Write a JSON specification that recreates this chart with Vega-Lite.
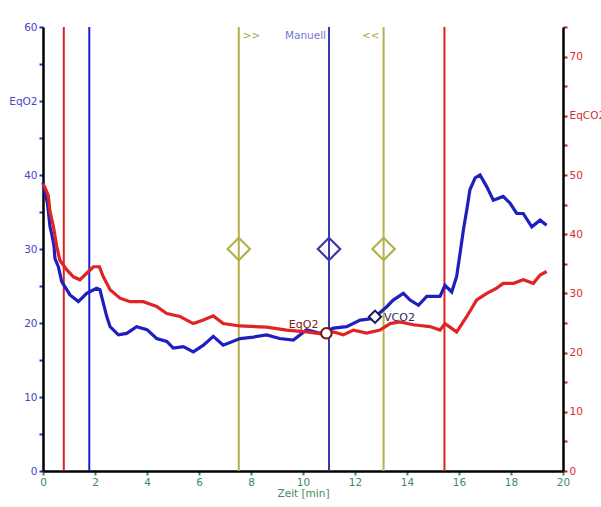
{
  "$schema": "https://vega.github.io/schema/vega-lite/v6.json",
  "width": 520,
  "height": 444,
  "autosize": {"type": "none"},
  "padding": {"left": 43, "top": 27, "right": 38, "bottom": 36},
  "background": "white",
  "config": {"view": {"stroke": null}, "font": "DejaVu Sans", "axis": {"grid": false}},
  "datasets": {
    "eqo2": [
      {"t": 0.0, "v": 39.0}, {"t": 0.17, "v": 36.2}, {"t": 0.27, "v": 33.0}, {"t": 0.33, "v": 32.1},
      {"t": 0.42, "v": 30.5}, {"t": 0.46, "v": 28.7}, {"t": 0.59, "v": 27.6}, {"t": 0.72, "v": 25.6},
      {"t": 1.04, "v": 23.8}, {"t": 1.36, "v": 22.9}, {"t": 1.68, "v": 24.0}, {"t": 2.06, "v": 24.7},
      {"t": 2.19, "v": 24.5}, {"t": 2.32, "v": 22.7}, {"t": 2.45, "v": 20.9}, {"t": 2.58, "v": 19.5},
      {"t": 2.9, "v": 18.4}, {"t": 3.22, "v": 18.6}, {"t": 3.6, "v": 19.5}, {"t": 4.0, "v": 19.1},
      {"t": 4.37, "v": 17.9}, {"t": 4.76, "v": 17.5}, {"t": 5.01, "v": 16.6}, {"t": 5.4, "v": 16.8},
      {"t": 5.78, "v": 16.1}, {"t": 6.17, "v": 17.0}, {"t": 6.55, "v": 18.2}, {"t": 6.93, "v": 17.0},
      {"t": 7.58, "v": 17.9}, {"t": 8.1, "v": 18.1}, {"t": 8.6, "v": 18.4}, {"t": 9.1, "v": 17.9},
      {"t": 9.63, "v": 17.7}, {"t": 10.14, "v": 19.1}, {"t": 10.65, "v": 18.6}, {"t": 11.17, "v": 19.3},
      {"t": 11.68, "v": 19.5}, {"t": 12.2, "v": 20.4}, {"t": 12.7, "v": 20.6}, {"t": 13.22, "v": 22.2},
      {"t": 13.47, "v": 23.1}, {"t": 13.86, "v": 24.0}, {"t": 14.12, "v": 23.1}, {"t": 14.44, "v": 22.4},
      {"t": 14.76, "v": 23.6}, {"t": 15.27, "v": 23.6}, {"t": 15.46, "v": 25.1}, {"t": 15.72, "v": 24.2},
      {"t": 15.91, "v": 26.3}, {"t": 16.04, "v": 29.4}, {"t": 16.17, "v": 32.6}, {"t": 16.3, "v": 35.3},
      {"t": 16.42, "v": 38.0}, {"t": 16.62, "v": 39.6}, {"t": 16.81, "v": 40.0}, {"t": 17.07, "v": 38.4},
      {"t": 17.32, "v": 36.6}, {"t": 17.7, "v": 37.1}, {"t": 17.96, "v": 36.2}, {"t": 18.22, "v": 34.8},
      {"t": 18.47, "v": 34.8}, {"t": 18.8, "v": 33.0}, {"t": 19.12, "v": 33.9}, {"t": 19.37, "v": 33.2}
    ],
    "eqco2": [
      {"t": 0.0, "v": 48.5}, {"t": 0.08, "v": 47.8}, {"t": 0.2, "v": 46.6}, {"t": 0.27, "v": 43.8},
      {"t": 0.4, "v": 41.3}, {"t": 0.53, "v": 37.9}, {"t": 0.65, "v": 35.6}, {"t": 0.91, "v": 34.0},
      {"t": 1.17, "v": 32.8}, {"t": 1.42, "v": 32.3}, {"t": 1.68, "v": 33.4}, {"t": 1.94, "v": 34.5},
      {"t": 2.17, "v": 34.5}, {"t": 2.32, "v": 32.8}, {"t": 2.58, "v": 30.6}, {"t": 2.96, "v": 29.2},
      {"t": 3.35, "v": 28.6}, {"t": 3.86, "v": 28.6}, {"t": 4.37, "v": 27.8}, {"t": 4.76, "v": 26.6},
      {"t": 5.27, "v": 26.1}, {"t": 5.78, "v": 24.9}, {"t": 6.17, "v": 25.5}, {"t": 6.55, "v": 26.2},
      {"t": 6.93, "v": 24.9}, {"t": 7.58, "v": 24.5}, {"t": 8.6, "v": 24.3}, {"t": 9.37, "v": 23.8},
      {"t": 10.14, "v": 23.5}, {"t": 10.85, "v": 23.1}, {"t": 11.17, "v": 23.5}, {"t": 11.55, "v": 23.0},
      {"t": 11.94, "v": 23.8}, {"t": 12.45, "v": 23.3}, {"t": 12.96, "v": 23.8}, {"t": 13.35, "v": 24.9},
      {"t": 13.73, "v": 25.2}, {"t": 14.24, "v": 24.7}, {"t": 14.88, "v": 24.4}, {"t": 15.27, "v": 23.8},
      {"t": 15.46, "v": 24.9}, {"t": 15.91, "v": 23.5}, {"t": 16.3, "v": 26.1}, {"t": 16.68, "v": 28.9},
      {"t": 17.07, "v": 30.0}, {"t": 17.45, "v": 30.9}, {"t": 17.7, "v": 31.7}, {"t": 18.1, "v": 31.7},
      {"t": 18.47, "v": 32.3}, {"t": 18.86, "v": 31.7}, {"t": 19.12, "v": 33.1}, {"t": 19.37, "v": 33.7}
    ],
    "vlines": [
      {"t": 0.8, "kind": "Start/Ende"}, {"t": 1.78, "kind": "Ref"}, {"t": 7.53, "kind": "Bereich"},
      {"t": 11.0, "kind": "Manuell"}, {"t": 13.1, "kind": "Bereich"}, {"t": 15.44, "kind": "Start/Ende"}
    ],
    "handles": [
      {"t": 7.53, "v": 30, "kind": "Bereich"}, {"t": 11.0, "v": 30, "kind": "Manuell"}, {"t": 13.1, "v": 30, "kind": "Bereich"}
    ]
  },
  "layer": [
    {
      "data": {"name": "vlines"},
      "mark": {"type": "rule", "strokeWidth": 2},
      "encoding": {
        "x": {
          "field": "t", "type": "quantitative",
          "scale": {"domain": [0, 20], "nice": false, "zero": false},
          "axis": {
            "title": "Zeit  [min]", "titleColor": "#3d8a5f", "titleFontWeight": "normal", "titleFontSize": 10.5, "titlePadding": 1,
            "values": [0,1,2,3,4,5,6,7,8,9,10,11,12,13,14,15,16,17,18,19,20],
            "labelExpr": "datum.value % 2 == 0 ? datum.label : ''",
            "labelColor": "#3d8a5f", "labelFontSize": 10.5, "labelPadding": 2, "labelFlush": false,
            "tickColor": "#3d8a5f", "tickSize": 4, "tickWidth": 2,
            "domainColor": "black", "domainWidth": 2.5
          }
        },
        "color": {
          "field": "kind", "type": "nominal",
          "scale": {"domain": ["Start/Ende", "Ref", "Bereich", "Manuell"], "range": ["#e02020", "#1e1ed2", "#b4b04c", "#3a3aa8"]},
          "legend": null
        }
      }
    },
    {
      "data": {"name": "eqo2"},
      "mark": {"type": "line", "color": "#1f1fc0", "strokeWidth": 3.2, "interpolate": "linear"},
      "encoding": {
        "x": {"field": "t", "type": "quantitative"},
        "y": {
          "field": "v", "type": "quantitative",
          "scale": {"domain": [0, 60], "nice": false},
          "axis": {
            "orient": "left", "title": null,
            "values": [0,5,10,15,20,25,30,35,40,45,50,55,60],
            "labelExpr": "datum.value == 50 ? 'EqO2' : (datum.value % 10 == 0 ? datum.label : '')",
            "labelColor": "#4646c8", "labelFontSize": 10.5, "labelPadding": 2,
            "tickColor": "#2a2ac0", "tickSize": 4, "tickWidth": 2,
            "domainColor": "black", "domainWidth": 2.5
          }
        }
      }
    },
    {
      "data": {"name": "eqco2"},
      "mark": {"type": "line", "color": "#e02424", "strokeWidth": 3.2, "interpolate": "linear"},
      "encoding": {
        "x": {"field": "t", "type": "quantitative"},
        "y": {
          "field": "v", "type": "quantitative",
          "scale": {"domain": [0, 75], "nice": false},
          "axis": {
            "orient": "right", "title": null,
            "values": [0,5,10,15,20,25,30,35,40,45,50,55,60,65,70,75],
            "labelExpr": "datum.value == 60 ? 'EqCO2' : (datum.value % 10 == 0 ? datum.label : '')",
            "labelColor": "#d23030", "labelFontSize": 10.5, "labelPadding": 2,
            "tickColor": "#c02020", "tickSize": 4, "tickWidth": 2,
            "domainColor": "black", "domainWidth": 2.5
          }
        }
      }
    },
    {
      "data": {"name": "handles"},
      "mark": {"type": "point", "shape": "diamond", "size": 500, "filled": false, "strokeWidth": 2.2, "opacity": 1},
      "encoding": {
        "x": {"field": "t", "type": "quantitative"},
        "y": {"field": "v", "type": "quantitative", "scale": {"domain": [0, 60], "nice": false}, "axis": null},
        "color": {"field": "kind", "type": "nominal", "legend": null}
      }
    },
    {
      "data": {"values": [{"t": 10.9, "v": 18.6}]},
      "mark": {"type": "point", "shape": "circle", "size": 110, "fill": "white", "stroke": "#701818", "strokeWidth": 2, "opacity": 1, "fillOpacity": 1},
      "encoding": {
        "x": {"field": "t", "type": "quantitative"},
        "y": {"field": "v", "type": "quantitative", "scale": {"domain": [0, 60], "nice": false}, "axis": null}
      }
    },
    {
      "data": {"values": [{"t": 12.77, "v": 20.85}]},
      "mark": {"type": "point", "shape": "diamond", "size": 150, "fill": "white", "stroke": "#1a1a5a", "strokeWidth": 2, "opacity": 1, "fillOpacity": 1},
      "encoding": {
        "x": {"field": "t", "type": "quantitative"},
        "y": {"field": "v", "type": "quantitative", "scale": {"domain": [0, 60], "nice": false}, "axis": null}
      }
    },
    {
      "data": {"values": [{"t": 7.53, "v": 58.8, "label": ">>"}]},
      "mark": {"type": "text", "align": "left", "baseline": "middle", "dx": 4, "fontSize": 10.5, "color": "#a8a440"},
      "encoding": {
        "x": {"field": "t", "type": "quantitative"},
        "y": {"field": "v", "type": "quantitative", "scale": {"domain": [0, 60], "nice": false}, "axis": null},
        "text": {"field": "label"}
      }
    },
    {
      "data": {"values": [{"t": 11.0, "v": 58.8, "label": "Manuell"}]},
      "mark": {"type": "text", "align": "right", "baseline": "middle", "dx": -3, "fontSize": 10.5, "color": "#7474d4"},
      "encoding": {
        "x": {"field": "t", "type": "quantitative"},
        "y": {"field": "v", "type": "quantitative", "scale": {"domain": [0, 60], "nice": false}, "axis": null},
        "text": {"field": "label"}
      }
    },
    {
      "data": {"values": [{"t": 13.1, "v": 58.8, "label": "<<"}]},
      "mark": {"type": "text", "align": "right", "baseline": "middle", "dx": -4, "fontSize": 10.5, "color": "#a8a440"},
      "encoding": {
        "x": {"field": "t", "type": "quantitative"},
        "y": {"field": "v", "type": "quantitative", "scale": {"domain": [0, 60], "nice": false}, "axis": null},
        "text": {"field": "label"}
      }
    },
    {
      "data": {"values": [{"t": 10.9, "v": 18.6, "label": "EqO2"}]},
      "mark": {"type": "text", "align": "right", "baseline": "middle", "dx": -8, "dy": -8, "fontSize": 11, "color": "#7a2020"},
      "encoding": {
        "x": {"field": "t", "type": "quantitative"},
        "y": {"field": "v", "type": "quantitative", "scale": {"domain": [0, 60], "nice": false}, "axis": null},
        "text": {"field": "label"}
      }
    },
    {
      "data": {"values": [{"t": 12.77, "v": 20.85, "label": "VCO2"}]},
      "mark": {"type": "text", "align": "left", "baseline": "middle", "dx": 9, "dy": 1, "fontSize": 11, "color": "#2a2a60"},
      "encoding": {
        "x": {"field": "t", "type": "quantitative"},
        "y": {"field": "v", "type": "quantitative", "scale": {"domain": [0, 60], "nice": false}, "axis": null},
        "text": {"field": "label"}
      }
    }
  ],
  "resolve": {"scale": {"y": "independent"}}
}
